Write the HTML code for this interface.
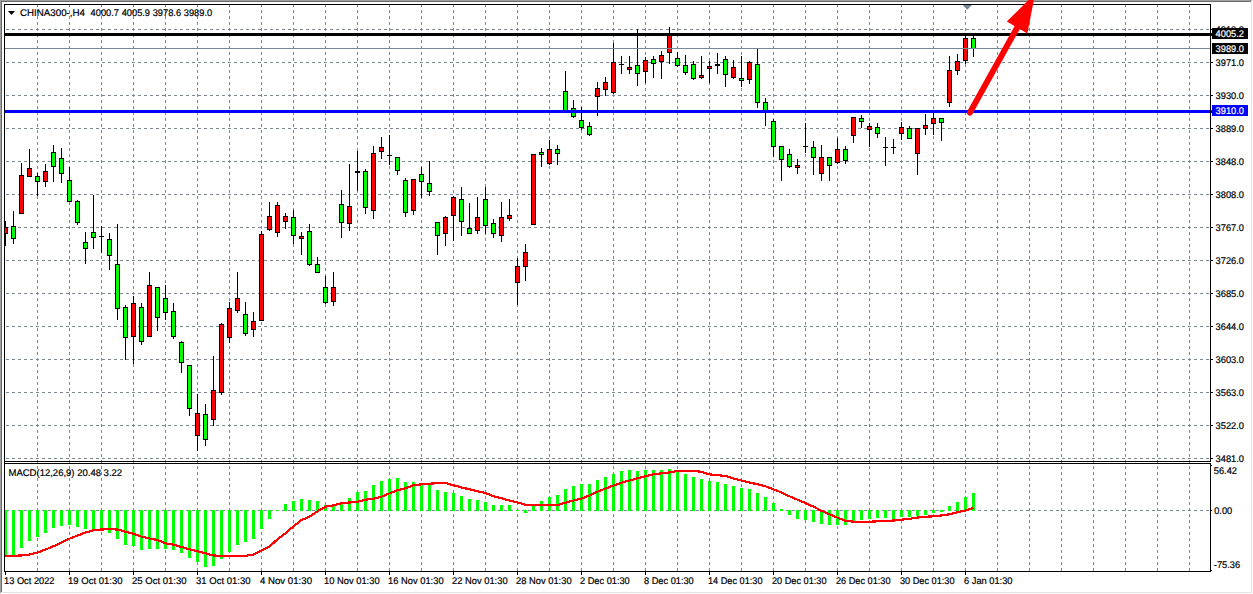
<!DOCTYPE html><html><head><meta charset="utf-8"><title>CHINA300-,H4</title>
<style>html,body{margin:0;padding:0;background:#fff;overflow:hidden}svg{display:block}text{font-family:"Liberation Sans",sans-serif;font-size:9.7px;fill:#000;stroke:#000;stroke-width:0.2px;text-rendering:geometricPrecision}</style></head><body>
<svg width="1253" height="594" viewBox="0 0 1253 594">
<defs><clipPath id="c1"><rect x="5" y="5" width="1205" height="456"/></clipPath><clipPath id="c2"><rect x="5" y="464" width="1205" height="107"/></clipPath></defs>
<rect x="0" y="0" width="1253" height="594" fill="#fff"/>
<g shape-rendering="crispEdges">
<rect x="0" y="0" width="1253" height="1" fill="#a0a0a0"/><rect x="0" y="0" width="1" height="594" fill="#a0a0a0"/>
<rect x="1" y="1" width="1250" height="1" fill="#696969"/><rect x="1" y="1" width="1" height="591" fill="#696969"/>
<rect x="1251" y="2" width="1" height="591" fill="#e3e3e3"/><rect x="2" y="592" width="1250" height="1" fill="#e3e3e3"/>
<rect x="1252" y="0" width="1" height="594" fill="#fff"/><rect x="0" y="593" width="1253" height="1" fill="#fff"/>
<g clip-path="url(#c1)" stroke="#778899" stroke-width="1" stroke-dasharray="3 3" fill="none">
<line x1="0" y1="29.5" x2="1212" y2="29.5"/>
<line x1="0" y1="62.5" x2="1212" y2="62.5"/>
<line x1="0" y1="95.5" x2="1212" y2="95.5"/>
<line x1="0" y1="128.5" x2="1212" y2="128.5"/>
<line x1="0" y1="161.5" x2="1212" y2="161.5"/>
<line x1="0" y1="194.5" x2="1212" y2="194.5"/>
<line x1="0" y1="227.5" x2="1212" y2="227.5"/>
<line x1="0" y1="260.5" x2="1212" y2="260.5"/>
<line x1="0" y1="293.5" x2="1212" y2="293.5"/>
<line x1="0" y1="326.5" x2="1212" y2="326.5"/>
<line x1="0" y1="359.5" x2="1212" y2="359.5"/>
<line x1="0" y1="392.5" x2="1212" y2="392.5"/>
<line x1="0" y1="425.5" x2="1212" y2="425.5"/>
<line x1="0" y1="458.5" x2="1212" y2="458.5"/>
<line x1="37.5" y1="4" x2="37.5" y2="466"/>
<line x1="69.5" y1="4" x2="69.5" y2="466"/>
<line x1="101.5" y1="4" x2="101.5" y2="466"/>
<line x1="133.5" y1="4" x2="133.5" y2="466"/>
<line x1="165.5" y1="4" x2="165.5" y2="466"/>
<line x1="197.5" y1="4" x2="197.5" y2="466"/>
<line x1="229.5" y1="4" x2="229.5" y2="466"/>
<line x1="261.5" y1="4" x2="261.5" y2="466"/>
<line x1="293.5" y1="4" x2="293.5" y2="466"/>
<line x1="325.5" y1="4" x2="325.5" y2="466"/>
<line x1="357.5" y1="4" x2="357.5" y2="466"/>
<line x1="389.5" y1="4" x2="389.5" y2="466"/>
<line x1="421.5" y1="4" x2="421.5" y2="466"/>
<line x1="453.5" y1="4" x2="453.5" y2="466"/>
<line x1="485.5" y1="4" x2="485.5" y2="466"/>
<line x1="517.5" y1="4" x2="517.5" y2="466"/>
<line x1="549.5" y1="4" x2="549.5" y2="466"/>
<line x1="581.5" y1="4" x2="581.5" y2="466"/>
<line x1="613.5" y1="4" x2="613.5" y2="466"/>
<line x1="645.5" y1="4" x2="645.5" y2="466"/>
<line x1="677.5" y1="4" x2="677.5" y2="466"/>
<line x1="709.5" y1="4" x2="709.5" y2="466"/>
<line x1="741.5" y1="4" x2="741.5" y2="466"/>
<line x1="773.5" y1="4" x2="773.5" y2="466"/>
<line x1="805.5" y1="4" x2="805.5" y2="466"/>
<line x1="837.5" y1="4" x2="837.5" y2="466"/>
<line x1="869.5" y1="4" x2="869.5" y2="466"/>
<line x1="901.5" y1="4" x2="901.5" y2="466"/>
<line x1="933.5" y1="4" x2="933.5" y2="466"/>
<line x1="965.5" y1="4" x2="965.5" y2="466"/>
<line x1="997.5" y1="4" x2="997.5" y2="466"/>
<line x1="1029.5" y1="4" x2="1029.5" y2="466"/>
<line x1="1061.5" y1="4" x2="1061.5" y2="466"/>
<line x1="1093.5" y1="4" x2="1093.5" y2="466"/>
<line x1="1125.5" y1="4" x2="1125.5" y2="466"/>
<line x1="1157.5" y1="4" x2="1157.5" y2="466"/>
<line x1="1189.5" y1="4" x2="1189.5" y2="466"/>
</g>
<g clip-path="url(#c2)" stroke="#778899" stroke-width="1" stroke-dasharray="3 3" fill="none">
<line x1="0" y1="510.5" x2="1212" y2="510.5"/>
<line x1="37.5" y1="460" x2="37.5" y2="575"/>
<line x1="69.5" y1="460" x2="69.5" y2="575"/>
<line x1="101.5" y1="460" x2="101.5" y2="575"/>
<line x1="133.5" y1="460" x2="133.5" y2="575"/>
<line x1="165.5" y1="460" x2="165.5" y2="575"/>
<line x1="197.5" y1="460" x2="197.5" y2="575"/>
<line x1="229.5" y1="460" x2="229.5" y2="575"/>
<line x1="261.5" y1="460" x2="261.5" y2="575"/>
<line x1="293.5" y1="460" x2="293.5" y2="575"/>
<line x1="325.5" y1="460" x2="325.5" y2="575"/>
<line x1="357.5" y1="460" x2="357.5" y2="575"/>
<line x1="389.5" y1="460" x2="389.5" y2="575"/>
<line x1="421.5" y1="460" x2="421.5" y2="575"/>
<line x1="453.5" y1="460" x2="453.5" y2="575"/>
<line x1="485.5" y1="460" x2="485.5" y2="575"/>
<line x1="517.5" y1="460" x2="517.5" y2="575"/>
<line x1="549.5" y1="460" x2="549.5" y2="575"/>
<line x1="581.5" y1="460" x2="581.5" y2="575"/>
<line x1="613.5" y1="460" x2="613.5" y2="575"/>
<line x1="645.5" y1="460" x2="645.5" y2="575"/>
<line x1="677.5" y1="460" x2="677.5" y2="575"/>
<line x1="709.5" y1="460" x2="709.5" y2="575"/>
<line x1="741.5" y1="460" x2="741.5" y2="575"/>
<line x1="773.5" y1="460" x2="773.5" y2="575"/>
<line x1="805.5" y1="460" x2="805.5" y2="575"/>
<line x1="837.5" y1="460" x2="837.5" y2="575"/>
<line x1="869.5" y1="460" x2="869.5" y2="575"/>
<line x1="901.5" y1="460" x2="901.5" y2="575"/>
<line x1="933.5" y1="460" x2="933.5" y2="575"/>
<line x1="965.5" y1="460" x2="965.5" y2="575"/>
<line x1="997.5" y1="460" x2="997.5" y2="575"/>
<line x1="1029.5" y1="460" x2="1029.5" y2="575"/>
<line x1="1061.5" y1="460" x2="1061.5" y2="575"/>
<line x1="1093.5" y1="460" x2="1093.5" y2="575"/>
<line x1="1125.5" y1="460" x2="1125.5" y2="575"/>
<line x1="1157.5" y1="460" x2="1157.5" y2="575"/>
<line x1="1189.5" y1="460" x2="1189.5" y2="575"/>
</g>
<rect x="5" y="221" width="1" height="25" fill="#000"/>
<rect x="3" y="227" width="5" height="7" fill="#000"/>
<rect x="4" y="228" width="3" height="5" fill="#ff0000"/>
<rect x="13" y="211" width="1" height="33" fill="#000"/>
<rect x="11" y="226" width="5" height="13" fill="#000"/>
<rect x="12" y="227" width="3" height="11" fill="#00ff00"/>
<rect x="21" y="163" width="1" height="51" fill="#000"/>
<rect x="19" y="175" width="5" height="39" fill="#000"/>
<rect x="20" y="176" width="3" height="37" fill="#ff0000"/>
<rect x="29" y="149" width="1" height="28" fill="#000"/>
<rect x="27" y="168" width="5" height="9" fill="#000"/>
<rect x="28" y="169" width="3" height="7" fill="#ff0000"/>
<rect x="37" y="173" width="1" height="23" fill="#000"/>
<rect x="35" y="176" width="5" height="6" fill="#000"/>
<rect x="36" y="177" width="3" height="4" fill="#00ff00"/>
<rect x="45" y="164" width="1" height="23" fill="#000"/>
<rect x="43" y="171" width="5" height="11" fill="#000"/>
<rect x="44" y="172" width="3" height="9" fill="#ff0000"/>
<rect x="53" y="145" width="1" height="37" fill="#000"/>
<rect x="51" y="152" width="5" height="15" fill="#000"/>
<rect x="52" y="153" width="3" height="13" fill="#00ff00"/>
<rect x="61" y="148" width="1" height="35" fill="#000"/>
<rect x="59" y="158" width="5" height="16" fill="#000"/>
<rect x="60" y="159" width="3" height="14" fill="#00ff00"/>
<rect x="69" y="167" width="1" height="35" fill="#000"/>
<rect x="67" y="180" width="5" height="22" fill="#000"/>
<rect x="68" y="181" width="3" height="20" fill="#00ff00"/>
<rect x="77" y="200" width="1" height="25" fill="#000"/>
<rect x="75" y="201" width="5" height="22" fill="#000"/>
<rect x="76" y="202" width="3" height="20" fill="#00ff00"/>
<rect x="85" y="232" width="1" height="32" fill="#000"/>
<rect x="83" y="242" width="5" height="7" fill="#000"/>
<rect x="84" y="243" width="3" height="5" fill="#00ff00"/>
<rect x="93" y="195" width="1" height="54" fill="#000"/>
<rect x="91" y="232" width="5" height="6" fill="#000"/>
<rect x="92" y="233" width="3" height="4" fill="#00ff00"/>
<rect x="101" y="226" width="1" height="27" fill="#000"/>
<rect x="99" y="236" width="5" height="1" fill="#000"/>
<rect x="109" y="233" width="1" height="37" fill="#000"/>
<rect x="107" y="239" width="5" height="17" fill="#000"/>
<rect x="108" y="240" width="3" height="15" fill="#00ff00"/>
<rect x="117" y="224" width="1" height="96" fill="#000"/>
<rect x="115" y="264" width="5" height="45" fill="#000"/>
<rect x="116" y="265" width="3" height="43" fill="#00ff00"/>
<rect x="125" y="305" width="1" height="55" fill="#000"/>
<rect x="123" y="307" width="5" height="31" fill="#000"/>
<rect x="124" y="308" width="3" height="29" fill="#00ff00"/>
<rect x="133" y="296" width="1" height="68" fill="#000"/>
<rect x="131" y="303" width="5" height="34" fill="#000"/>
<rect x="132" y="304" width="3" height="32" fill="#ff0000"/>
<rect x="141" y="303" width="1" height="42" fill="#000"/>
<rect x="139" y="307" width="5" height="35" fill="#000"/>
<rect x="140" y="308" width="3" height="33" fill="#00ff00"/>
<rect x="149" y="272" width="1" height="65" fill="#000"/>
<rect x="147" y="285" width="5" height="52" fill="#000"/>
<rect x="148" y="286" width="3" height="50" fill="#ff0000"/>
<rect x="157" y="287" width="1" height="44" fill="#000"/>
<rect x="155" y="287" width="5" height="31" fill="#000"/>
<rect x="156" y="288" width="3" height="29" fill="#00ff00"/>
<rect x="165" y="285" width="1" height="35" fill="#000"/>
<rect x="163" y="298" width="5" height="15" fill="#000"/>
<rect x="164" y="299" width="3" height="13" fill="#00ff00"/>
<rect x="173" y="303" width="1" height="36" fill="#000"/>
<rect x="171" y="311" width="5" height="26" fill="#000"/>
<rect x="172" y="312" width="3" height="24" fill="#00ff00"/>
<rect x="181" y="341" width="1" height="32" fill="#000"/>
<rect x="179" y="342" width="5" height="21" fill="#000"/>
<rect x="180" y="343" width="3" height="19" fill="#00ff00"/>
<rect x="189" y="365" width="1" height="51" fill="#000"/>
<rect x="187" y="365" width="5" height="44" fill="#000"/>
<rect x="188" y="366" width="3" height="42" fill="#00ff00"/>
<rect x="197" y="394" width="1" height="57" fill="#000"/>
<rect x="195" y="413" width="5" height="23" fill="#000"/>
<rect x="196" y="414" width="3" height="21" fill="#ff0000"/>
<rect x="205" y="404" width="1" height="42" fill="#000"/>
<rect x="203" y="414" width="5" height="26" fill="#000"/>
<rect x="204" y="415" width="3" height="24" fill="#00ff00"/>
<rect x="213" y="356" width="1" height="70" fill="#000"/>
<rect x="211" y="390" width="5" height="30" fill="#000"/>
<rect x="212" y="391" width="3" height="28" fill="#ff0000"/>
<rect x="221" y="323" width="1" height="72" fill="#000"/>
<rect x="219" y="324" width="5" height="69" fill="#000"/>
<rect x="220" y="325" width="3" height="67" fill="#ff0000"/>
<rect x="229" y="302" width="1" height="41" fill="#000"/>
<rect x="227" y="308" width="5" height="30" fill="#000"/>
<rect x="228" y="309" width="3" height="28" fill="#ff0000"/>
<rect x="237" y="272" width="1" height="41" fill="#000"/>
<rect x="235" y="298" width="5" height="13" fill="#000"/>
<rect x="236" y="299" width="3" height="11" fill="#ff0000"/>
<rect x="245" y="302" width="1" height="34" fill="#000"/>
<rect x="243" y="314" width="5" height="20" fill="#000"/>
<rect x="244" y="315" width="3" height="18" fill="#00ff00"/>
<rect x="253" y="312" width="1" height="25" fill="#000"/>
<rect x="251" y="321" width="5" height="9" fill="#000"/>
<rect x="252" y="322" width="3" height="7" fill="#ff0000"/>
<rect x="261" y="231" width="1" height="90" fill="#000"/>
<rect x="259" y="234" width="5" height="87" fill="#000"/>
<rect x="260" y="235" width="3" height="85" fill="#ff0000"/>
<rect x="269" y="202" width="1" height="29" fill="#000"/>
<rect x="267" y="216" width="5" height="14" fill="#000"/>
<rect x="268" y="217" width="3" height="12" fill="#ff0000"/>
<rect x="277" y="202" width="1" height="35" fill="#000"/>
<rect x="275" y="205" width="5" height="28" fill="#000"/>
<rect x="276" y="206" width="3" height="26" fill="#ff0000"/>
<rect x="285" y="213" width="1" height="16" fill="#000"/>
<rect x="283" y="216" width="5" height="6" fill="#000"/>
<rect x="284" y="217" width="3" height="4" fill="#ff0000"/>
<rect x="293" y="210" width="1" height="34" fill="#000"/>
<rect x="291" y="217" width="5" height="19" fill="#000"/>
<rect x="292" y="218" width="3" height="17" fill="#00ff00"/>
<rect x="301" y="232" width="1" height="23" fill="#000"/>
<rect x="299" y="236" width="5" height="3" fill="#000"/>
<rect x="300" y="237" width="3" height="1" fill="#ff0000"/>
<rect x="309" y="224" width="1" height="42" fill="#000"/>
<rect x="307" y="231" width="5" height="34" fill="#000"/>
<rect x="308" y="232" width="3" height="32" fill="#00ff00"/>
<rect x="317" y="257" width="1" height="16" fill="#000"/>
<rect x="315" y="264" width="5" height="9" fill="#000"/>
<rect x="316" y="265" width="3" height="7" fill="#00ff00"/>
<rect x="325" y="276" width="1" height="28" fill="#000"/>
<rect x="323" y="287" width="5" height="16" fill="#000"/>
<rect x="324" y="288" width="3" height="14" fill="#00ff00"/>
<rect x="333" y="272" width="1" height="34" fill="#000"/>
<rect x="331" y="287" width="5" height="15" fill="#000"/>
<rect x="332" y="288" width="3" height="13" fill="#ff0000"/>
<rect x="341" y="190" width="1" height="48" fill="#000"/>
<rect x="339" y="204" width="5" height="19" fill="#000"/>
<rect x="340" y="205" width="3" height="17" fill="#00ff00"/>
<rect x="349" y="164" width="1" height="67" fill="#000"/>
<rect x="347" y="206" width="5" height="18" fill="#000"/>
<rect x="348" y="207" width="3" height="16" fill="#ff0000"/>
<rect x="357" y="151" width="1" height="40" fill="#000"/>
<rect x="355" y="171" width="5" height="2" fill="#000"/>
<rect x="365" y="169" width="1" height="45" fill="#000"/>
<rect x="363" y="171" width="5" height="37" fill="#000"/>
<rect x="364" y="172" width="3" height="35" fill="#00ff00"/>
<rect x="373" y="146" width="1" height="73" fill="#000"/>
<rect x="371" y="153" width="5" height="58" fill="#000"/>
<rect x="372" y="154" width="3" height="56" fill="#ff0000"/>
<rect x="381" y="137" width="1" height="22" fill="#000"/>
<rect x="379" y="147" width="5" height="5" fill="#000"/>
<rect x="380" y="148" width="3" height="3" fill="#ff0000"/>
<rect x="389" y="135" width="1" height="30" fill="#000"/>
<rect x="387" y="155" width="5" height="1" fill="#000"/>
<rect x="397" y="157" width="1" height="18" fill="#000"/>
<rect x="395" y="157" width="5" height="14" fill="#000"/>
<rect x="396" y="158" width="3" height="12" fill="#00ff00"/>
<rect x="405" y="178" width="1" height="39" fill="#000"/>
<rect x="403" y="180" width="5" height="33" fill="#000"/>
<rect x="404" y="181" width="3" height="31" fill="#00ff00"/>
<rect x="413" y="179" width="1" height="36" fill="#000"/>
<rect x="411" y="179" width="5" height="32" fill="#000"/>
<rect x="412" y="180" width="3" height="30" fill="#ff0000"/>
<rect x="421" y="167" width="1" height="31" fill="#000"/>
<rect x="419" y="174" width="5" height="8" fill="#000"/>
<rect x="420" y="175" width="3" height="6" fill="#00ff00"/>
<rect x="429" y="161" width="1" height="35" fill="#000"/>
<rect x="427" y="183" width="5" height="9" fill="#000"/>
<rect x="428" y="184" width="3" height="7" fill="#00ff00"/>
<rect x="437" y="222" width="1" height="33" fill="#000"/>
<rect x="435" y="222" width="5" height="14" fill="#000"/>
<rect x="436" y="223" width="3" height="12" fill="#00ff00"/>
<rect x="445" y="216" width="1" height="30" fill="#000"/>
<rect x="443" y="217" width="5" height="17" fill="#000"/>
<rect x="444" y="218" width="3" height="15" fill="#ff0000"/>
<rect x="453" y="196" width="1" height="45" fill="#000"/>
<rect x="451" y="197" width="5" height="19" fill="#000"/>
<rect x="452" y="198" width="3" height="17" fill="#ff0000"/>
<rect x="461" y="187" width="1" height="49" fill="#000"/>
<rect x="459" y="199" width="5" height="23" fill="#000"/>
<rect x="460" y="200" width="3" height="21" fill="#00ff00"/>
<rect x="469" y="203" width="1" height="31" fill="#000"/>
<rect x="467" y="228" width="5" height="6" fill="#000"/>
<rect x="468" y="229" width="3" height="4" fill="#00ff00"/>
<rect x="477" y="197" width="1" height="37" fill="#000"/>
<rect x="475" y="217" width="5" height="14" fill="#000"/>
<rect x="476" y="218" width="3" height="12" fill="#ff0000"/>
<rect x="485" y="187" width="1" height="47" fill="#000"/>
<rect x="483" y="199" width="5" height="27" fill="#000"/>
<rect x="484" y="200" width="3" height="25" fill="#00ff00"/>
<rect x="493" y="219" width="1" height="19" fill="#000"/>
<rect x="491" y="223" width="5" height="11" fill="#000"/>
<rect x="492" y="224" width="3" height="9" fill="#00ff00"/>
<rect x="501" y="202" width="1" height="40" fill="#000"/>
<rect x="499" y="217" width="5" height="19" fill="#000"/>
<rect x="500" y="218" width="3" height="17" fill="#ff0000"/>
<rect x="509" y="199" width="1" height="22" fill="#000"/>
<rect x="507" y="215" width="5" height="4" fill="#000"/>
<rect x="508" y="216" width="3" height="2" fill="#ff0000"/>
<rect x="517" y="258" width="1" height="47" fill="#000"/>
<rect x="515" y="266" width="5" height="17" fill="#000"/>
<rect x="516" y="267" width="3" height="15" fill="#ff0000"/>
<rect x="525" y="244" width="1" height="37" fill="#000"/>
<rect x="523" y="252" width="5" height="15" fill="#000"/>
<rect x="524" y="253" width="3" height="13" fill="#ff0000"/>
<rect x="533" y="154" width="1" height="71" fill="#000"/>
<rect x="531" y="154" width="5" height="71" fill="#000"/>
<rect x="532" y="155" width="3" height="69" fill="#ff0000"/>
<rect x="541" y="148" width="1" height="19" fill="#000"/>
<rect x="539" y="152" width="5" height="3" fill="#000"/>
<rect x="540" y="153" width="3" height="1" fill="#00ff00"/>
<rect x="549" y="140" width="1" height="25" fill="#000"/>
<rect x="547" y="149" width="5" height="15" fill="#000"/>
<rect x="548" y="150" width="3" height="13" fill="#ff0000"/>
<rect x="557" y="145" width="1" height="20" fill="#000"/>
<rect x="555" y="149" width="5" height="5" fill="#000"/>
<rect x="556" y="150" width="3" height="3" fill="#00ff00"/>
<rect x="565" y="71" width="1" height="41" fill="#000"/>
<rect x="563" y="91" width="5" height="21" fill="#000"/>
<rect x="564" y="92" width="3" height="19" fill="#00ff00"/>
<rect x="573" y="100" width="1" height="18" fill="#000"/>
<rect x="571" y="108" width="5" height="9" fill="#000"/>
<rect x="572" y="109" width="3" height="7" fill="#00ff00"/>
<rect x="581" y="107" width="1" height="23" fill="#000"/>
<rect x="579" y="120" width="5" height="8" fill="#000"/>
<rect x="580" y="121" width="3" height="6" fill="#00ff00"/>
<rect x="589" y="122" width="1" height="14" fill="#000"/>
<rect x="587" y="126" width="5" height="9" fill="#000"/>
<rect x="588" y="127" width="3" height="7" fill="#00ff00"/>
<rect x="597" y="82" width="1" height="34" fill="#000"/>
<rect x="595" y="88" width="5" height="9" fill="#000"/>
<rect x="596" y="89" width="3" height="7" fill="#ff0000"/>
<rect x="605" y="77" width="1" height="19" fill="#000"/>
<rect x="603" y="82" width="5" height="8" fill="#000"/>
<rect x="604" y="83" width="3" height="6" fill="#ff0000"/>
<rect x="613" y="43" width="1" height="51" fill="#000"/>
<rect x="611" y="62" width="5" height="31" fill="#000"/>
<rect x="612" y="63" width="3" height="29" fill="#ff0000"/>
<rect x="621" y="56" width="1" height="18" fill="#000"/>
<rect x="619" y="64" width="5" height="1" fill="#000"/>
<rect x="629" y="56" width="1" height="18" fill="#000"/>
<rect x="627" y="67" width="5" height="3" fill="#000"/>
<rect x="628" y="68" width="3" height="1" fill="#ff0000"/>
<rect x="637" y="29" width="1" height="57" fill="#000"/>
<rect x="635" y="65" width="5" height="9" fill="#000"/>
<rect x="636" y="66" width="3" height="7" fill="#00ff00"/>
<rect x="645" y="57" width="1" height="26" fill="#000"/>
<rect x="643" y="60" width="5" height="12" fill="#000"/>
<rect x="644" y="61" width="3" height="10" fill="#ff0000"/>
<rect x="653" y="56" width="1" height="22" fill="#000"/>
<rect x="651" y="59" width="5" height="5" fill="#000"/>
<rect x="652" y="60" width="3" height="3" fill="#00ff00"/>
<rect x="661" y="51" width="1" height="28" fill="#000"/>
<rect x="659" y="55" width="5" height="7" fill="#000"/>
<rect x="660" y="56" width="3" height="5" fill="#ff0000"/>
<rect x="669" y="27" width="1" height="37" fill="#000"/>
<rect x="667" y="35" width="5" height="18" fill="#000"/>
<rect x="668" y="36" width="3" height="16" fill="#ff0000"/>
<rect x="677" y="52" width="1" height="15" fill="#000"/>
<rect x="675" y="58" width="5" height="8" fill="#000"/>
<rect x="676" y="59" width="3" height="6" fill="#00ff00"/>
<rect x="685" y="55" width="1" height="20" fill="#000"/>
<rect x="683" y="65" width="5" height="8" fill="#000"/>
<rect x="684" y="66" width="3" height="6" fill="#00ff00"/>
<rect x="693" y="61" width="1" height="19" fill="#000"/>
<rect x="691" y="64" width="5" height="15" fill="#000"/>
<rect x="692" y="65" width="3" height="13" fill="#00ff00"/>
<rect x="701" y="56" width="1" height="23" fill="#000"/>
<rect x="699" y="75" width="5" height="3" fill="#000"/>
<rect x="700" y="76" width="3" height="1" fill="#ff0000"/>
<rect x="709" y="61" width="1" height="22" fill="#000"/>
<rect x="707" y="66" width="5" height="3" fill="#000"/>
<rect x="708" y="67" width="3" height="1" fill="#ff0000"/>
<rect x="717" y="53" width="1" height="21" fill="#000"/>
<rect x="715" y="64" width="5" height="2" fill="#000"/>
<rect x="725" y="56" width="1" height="31" fill="#000"/>
<rect x="723" y="59" width="5" height="16" fill="#000"/>
<rect x="724" y="60" width="3" height="14" fill="#00ff00"/>
<rect x="733" y="60" width="1" height="19" fill="#000"/>
<rect x="731" y="67" width="5" height="11" fill="#000"/>
<rect x="732" y="68" width="3" height="9" fill="#ff0000"/>
<rect x="741" y="56" width="1" height="31" fill="#000"/>
<rect x="739" y="78" width="5" height="3" fill="#000"/>
<rect x="740" y="79" width="3" height="1" fill="#00ff00"/>
<rect x="749" y="61" width="1" height="23" fill="#000"/>
<rect x="747" y="62" width="5" height="18" fill="#000"/>
<rect x="748" y="63" width="3" height="16" fill="#ff0000"/>
<rect x="757" y="49" width="1" height="59" fill="#000"/>
<rect x="755" y="64" width="5" height="39" fill="#000"/>
<rect x="756" y="65" width="3" height="37" fill="#00ff00"/>
<rect x="765" y="98" width="1" height="28" fill="#000"/>
<rect x="763" y="102" width="5" height="10" fill="#000"/>
<rect x="764" y="103" width="3" height="8" fill="#00ff00"/>
<rect x="773" y="119" width="1" height="38" fill="#000"/>
<rect x="771" y="121" width="5" height="26" fill="#000"/>
<rect x="772" y="122" width="3" height="24" fill="#00ff00"/>
<rect x="781" y="146" width="1" height="35" fill="#000"/>
<rect x="779" y="146" width="5" height="14" fill="#000"/>
<rect x="780" y="147" width="3" height="12" fill="#00ff00"/>
<rect x="789" y="149" width="1" height="19" fill="#000"/>
<rect x="787" y="154" width="5" height="13" fill="#000"/>
<rect x="788" y="155" width="3" height="11" fill="#00ff00"/>
<rect x="797" y="159" width="1" height="15" fill="#000"/>
<rect x="795" y="165" width="5" height="3" fill="#000"/>
<rect x="796" y="166" width="3" height="1" fill="#ff0000"/>
<rect x="805" y="123" width="1" height="30" fill="#000"/>
<rect x="803" y="146" width="5" height="1" fill="#000"/>
<rect x="813" y="141" width="1" height="34" fill="#000"/>
<rect x="811" y="147" width="5" height="11" fill="#000"/>
<rect x="812" y="148" width="3" height="9" fill="#00ff00"/>
<rect x="821" y="145" width="1" height="36" fill="#000"/>
<rect x="819" y="157" width="5" height="17" fill="#000"/>
<rect x="820" y="158" width="3" height="15" fill="#ff0000"/>
<rect x="829" y="157" width="1" height="24" fill="#000"/>
<rect x="827" y="157" width="5" height="9" fill="#000"/>
<rect x="828" y="158" width="3" height="7" fill="#00ff00"/>
<rect x="837" y="138" width="1" height="26" fill="#000"/>
<rect x="835" y="149" width="5" height="14" fill="#000"/>
<rect x="836" y="150" width="3" height="12" fill="#ff0000"/>
<rect x="845" y="146" width="1" height="18" fill="#000"/>
<rect x="843" y="149" width="5" height="12" fill="#000"/>
<rect x="844" y="150" width="3" height="10" fill="#00ff00"/>
<rect x="853" y="117" width="1" height="26" fill="#000"/>
<rect x="851" y="117" width="5" height="19" fill="#000"/>
<rect x="852" y="118" width="3" height="17" fill="#ff0000"/>
<rect x="861" y="115" width="1" height="13" fill="#000"/>
<rect x="859" y="118" width="5" height="4" fill="#000"/>
<rect x="860" y="119" width="3" height="2" fill="#00ff00"/>
<rect x="869" y="123" width="1" height="24" fill="#000"/>
<rect x="867" y="126" width="5" height="4" fill="#000"/>
<rect x="868" y="127" width="3" height="2" fill="#ff0000"/>
<rect x="877" y="123" width="1" height="15" fill="#000"/>
<rect x="875" y="127" width="5" height="7" fill="#000"/>
<rect x="876" y="128" width="3" height="5" fill="#00ff00"/>
<rect x="885" y="137" width="1" height="29" fill="#000"/>
<rect x="883" y="147" width="5" height="1" fill="#000"/>
<rect x="893" y="139" width="1" height="15" fill="#000"/>
<rect x="891" y="147" width="5" height="1" fill="#000"/>
<rect x="901" y="122" width="1" height="18" fill="#000"/>
<rect x="899" y="127" width="5" height="7" fill="#000"/>
<rect x="900" y="128" width="3" height="5" fill="#ff0000"/>
<rect x="909" y="126" width="1" height="13" fill="#000"/>
<rect x="907" y="128" width="5" height="11" fill="#000"/>
<rect x="908" y="129" width="3" height="9" fill="#00ff00"/>
<rect x="917" y="128" width="1" height="47" fill="#000"/>
<rect x="915" y="128" width="5" height="26" fill="#000"/>
<rect x="916" y="129" width="3" height="24" fill="#ff0000"/>
<rect x="925" y="114" width="1" height="21" fill="#000"/>
<rect x="923" y="125" width="5" height="4" fill="#000"/>
<rect x="924" y="126" width="3" height="2" fill="#ff0000"/>
<rect x="933" y="113" width="1" height="22" fill="#000"/>
<rect x="931" y="118" width="5" height="6" fill="#000"/>
<rect x="932" y="119" width="3" height="4" fill="#ff0000"/>
<rect x="941" y="118" width="1" height="23" fill="#000"/>
<rect x="939" y="118" width="5" height="5" fill="#000"/>
<rect x="940" y="119" width="3" height="3" fill="#00ff00"/>
<rect x="949" y="56" width="1" height="51" fill="#000"/>
<rect x="947" y="70" width="5" height="33" fill="#000"/>
<rect x="948" y="71" width="3" height="31" fill="#ff0000"/>
<rect x="957" y="54" width="1" height="21" fill="#000"/>
<rect x="955" y="61" width="5" height="10" fill="#000"/>
<rect x="956" y="62" width="3" height="8" fill="#ff0000"/>
<rect x="965" y="36" width="1" height="28" fill="#000"/>
<rect x="963" y="38" width="5" height="23" fill="#000"/>
<rect x="964" y="39" width="3" height="21" fill="#ff0000"/>
<rect x="973" y="36" width="1" height="21" fill="#000"/>
<rect x="971" y="38" width="5" height="11" fill="#000"/>
<rect x="972" y="39" width="3" height="9" fill="#00ff00"/>
<rect x="5" y="48" width="1205" height="1" fill="#778899"/>
<rect x="5" y="33" width="1207" height="3" fill="#000"/>
<rect x="5" y="110" width="1207" height="3" fill="#0000ff"/>
<rect x="4" y="510" width="3" height="46" fill="#00ff00"/>
<rect x="12" y="510" width="3" height="45" fill="#00ff00"/>
<rect x="20" y="510" width="3" height="38" fill="#00ff00"/>
<rect x="28" y="510" width="3" height="31" fill="#00ff00"/>
<rect x="36" y="510" width="3" height="27" fill="#00ff00"/>
<rect x="44" y="510" width="3" height="23" fill="#00ff00"/>
<rect x="52" y="510" width="3" height="18" fill="#00ff00"/>
<rect x="60" y="510" width="3" height="16" fill="#00ff00"/>
<rect x="68" y="510" width="3" height="15" fill="#00ff00"/>
<rect x="76" y="510" width="3" height="17" fill="#00ff00"/>
<rect x="84" y="510" width="3" height="19" fill="#00ff00"/>
<rect x="92" y="510" width="3" height="20" fill="#00ff00"/>
<rect x="100" y="510" width="3" height="20" fill="#00ff00"/>
<rect x="108" y="510" width="3" height="23" fill="#00ff00"/>
<rect x="116" y="510" width="3" height="29" fill="#00ff00"/>
<rect x="124" y="510" width="3" height="35" fill="#00ff00"/>
<rect x="132" y="510" width="3" height="36" fill="#00ff00"/>
<rect x="140" y="510" width="3" height="40" fill="#00ff00"/>
<rect x="148" y="510" width="3" height="39" fill="#00ff00"/>
<rect x="156" y="510" width="3" height="39" fill="#00ff00"/>
<rect x="164" y="510" width="3" height="39" fill="#00ff00"/>
<rect x="172" y="510" width="3" height="40" fill="#00ff00"/>
<rect x="180" y="510" width="3" height="43" fill="#00ff00"/>
<rect x="188" y="510" width="3" height="48" fill="#00ff00"/>
<rect x="196" y="510" width="3" height="52" fill="#00ff00"/>
<rect x="204" y="510" width="3" height="57" fill="#00ff00"/>
<rect x="212" y="510" width="3" height="56" fill="#00ff00"/>
<rect x="220" y="510" width="3" height="49" fill="#00ff00"/>
<rect x="228" y="510" width="3" height="42" fill="#00ff00"/>
<rect x="236" y="510" width="3" height="35" fill="#00ff00"/>
<rect x="244" y="510" width="3" height="32" fill="#00ff00"/>
<rect x="252" y="510" width="3" height="29" fill="#00ff00"/>
<rect x="260" y="510" width="3" height="19" fill="#00ff00"/>
<rect x="268" y="510" width="3" height="9" fill="#00ff00"/>
<rect x="276" y="510" width="3" height="1" fill="#00ff00"/>
<rect x="284" y="504" width="3" height="7" fill="#00ff00"/>
<rect x="292" y="501" width="3" height="10" fill="#00ff00"/>
<rect x="300" y="499" width="3" height="12" fill="#00ff00"/>
<rect x="308" y="500" width="3" height="11" fill="#00ff00"/>
<rect x="316" y="501" width="3" height="10" fill="#00ff00"/>
<rect x="324" y="505" width="3" height="6" fill="#00ff00"/>
<rect x="332" y="506" width="3" height="5" fill="#00ff00"/>
<rect x="340" y="502" width="3" height="9" fill="#00ff00"/>
<rect x="348" y="498" width="3" height="13" fill="#00ff00"/>
<rect x="356" y="492" width="3" height="19" fill="#00ff00"/>
<rect x="364" y="491" width="3" height="20" fill="#00ff00"/>
<rect x="372" y="485" width="3" height="26" fill="#00ff00"/>
<rect x="380" y="481" width="3" height="30" fill="#00ff00"/>
<rect x="388" y="479" width="3" height="32" fill="#00ff00"/>
<rect x="396" y="478" width="3" height="33" fill="#00ff00"/>
<rect x="404" y="482" width="3" height="29" fill="#00ff00"/>
<rect x="412" y="482" width="3" height="29" fill="#00ff00"/>
<rect x="420" y="483" width="3" height="28" fill="#00ff00"/>
<rect x="428" y="484" width="3" height="27" fill="#00ff00"/>
<rect x="436" y="490" width="3" height="21" fill="#00ff00"/>
<rect x="444" y="492" width="3" height="19" fill="#00ff00"/>
<rect x="452" y="493" width="3" height="18" fill="#00ff00"/>
<rect x="460" y="496" width="3" height="15" fill="#00ff00"/>
<rect x="468" y="499" width="3" height="12" fill="#00ff00"/>
<rect x="476" y="500" width="3" height="11" fill="#00ff00"/>
<rect x="484" y="502" width="3" height="9" fill="#00ff00"/>
<rect x="492" y="505" width="3" height="6" fill="#00ff00"/>
<rect x="500" y="505" width="3" height="6" fill="#00ff00"/>
<rect x="508" y="505" width="3" height="6" fill="#00ff00"/>
<rect x="516" y="510" width="3" height="1" fill="#00ff00"/>
<rect x="524" y="510" width="3" height="3" fill="#00ff00"/>
<rect x="532" y="506" width="3" height="5" fill="#00ff00"/>
<rect x="540" y="501" width="3" height="10" fill="#00ff00"/>
<rect x="548" y="497" width="3" height="14" fill="#00ff00"/>
<rect x="556" y="495" width="3" height="16" fill="#00ff00"/>
<rect x="564" y="489" width="3" height="22" fill="#00ff00"/>
<rect x="572" y="486" width="3" height="25" fill="#00ff00"/>
<rect x="580" y="484" width="3" height="27" fill="#00ff00"/>
<rect x="588" y="484" width="3" height="27" fill="#00ff00"/>
<rect x="596" y="480" width="3" height="31" fill="#00ff00"/>
<rect x="604" y="477" width="3" height="34" fill="#00ff00"/>
<rect x="612" y="474" width="3" height="37" fill="#00ff00"/>
<rect x="620" y="471" width="3" height="40" fill="#00ff00"/>
<rect x="628" y="470" width="3" height="41" fill="#00ff00"/>
<rect x="636" y="471" width="3" height="40" fill="#00ff00"/>
<rect x="644" y="470" width="3" height="41" fill="#00ff00"/>
<rect x="652" y="470" width="3" height="41" fill="#00ff00"/>
<rect x="660" y="470" width="3" height="41" fill="#00ff00"/>
<rect x="668" y="469" width="3" height="42" fill="#00ff00"/>
<rect x="676" y="472" width="3" height="39" fill="#00ff00"/>
<rect x="684" y="474" width="3" height="37" fill="#00ff00"/>
<rect x="692" y="477" width="3" height="34" fill="#00ff00"/>
<rect x="700" y="479" width="3" height="32" fill="#00ff00"/>
<rect x="708" y="481" width="3" height="30" fill="#00ff00"/>
<rect x="716" y="482" width="3" height="29" fill="#00ff00"/>
<rect x="724" y="484" width="3" height="27" fill="#00ff00"/>
<rect x="732" y="486" width="3" height="25" fill="#00ff00"/>
<rect x="740" y="488" width="3" height="23" fill="#00ff00"/>
<rect x="748" y="489" width="3" height="22" fill="#00ff00"/>
<rect x="756" y="493" width="3" height="18" fill="#00ff00"/>
<rect x="764" y="497" width="3" height="14" fill="#00ff00"/>
<rect x="772" y="503" width="3" height="8" fill="#00ff00"/>
<rect x="780" y="509" width="3" height="2" fill="#00ff00"/>
<rect x="788" y="510" width="3" height="5" fill="#00ff00"/>
<rect x="796" y="510" width="3" height="9" fill="#00ff00"/>
<rect x="804" y="510" width="3" height="10" fill="#00ff00"/>
<rect x="812" y="510" width="3" height="12" fill="#00ff00"/>
<rect x="820" y="510" width="3" height="14" fill="#00ff00"/>
<rect x="828" y="510" width="3" height="15" fill="#00ff00"/>
<rect x="836" y="510" width="3" height="15" fill="#00ff00"/>
<rect x="844" y="510" width="3" height="15" fill="#00ff00"/>
<rect x="852" y="510" width="3" height="11" fill="#00ff00"/>
<rect x="860" y="510" width="3" height="10" fill="#00ff00"/>
<rect x="868" y="510" width="3" height="9" fill="#00ff00"/>
<rect x="876" y="510" width="3" height="8" fill="#00ff00"/>
<rect x="884" y="510" width="3" height="8" fill="#00ff00"/>
<rect x="892" y="510" width="3" height="9" fill="#00ff00"/>
<rect x="900" y="510" width="3" height="7" fill="#00ff00"/>
<rect x="908" y="510" width="3" height="7" fill="#00ff00"/>
<rect x="916" y="510" width="3" height="6" fill="#00ff00"/>
<rect x="924" y="510" width="3" height="5" fill="#00ff00"/>
<rect x="932" y="510" width="3" height="3" fill="#00ff00"/>
<rect x="940" y="510" width="3" height="2" fill="#00ff00"/>
<rect x="948" y="506" width="3" height="5" fill="#00ff00"/>
<rect x="956" y="502" width="3" height="9" fill="#00ff00"/>
<rect x="964" y="497" width="3" height="14" fill="#00ff00"/>
<rect x="972" y="493" width="3" height="18" fill="#00ff00"/>
<rect x="2" y="2" width="2" height="590" fill="#fff"/>
<rect x="4" y="4" width="1207" height="1" fill="#000"/>
<rect x="4" y="4" width="1" height="568" fill="#000"/>
<rect x="1210" y="4" width="1" height="458" fill="#000"/>
<rect x="4" y="461" width="1207" height="1" fill="#000"/>
<rect x="5" y="462" width="1240" height="1" fill="#fff"/>
<rect x="4" y="463" width="1207" height="1" fill="#000"/>
<rect x="37" y="462" width="1" height="1" fill="#778899"/>
<rect x="69" y="462" width="1" height="1" fill="#778899"/>
<rect x="101" y="462" width="1" height="1" fill="#778899"/>
<rect x="133" y="462" width="1" height="1" fill="#778899"/>
<rect x="165" y="462" width="1" height="1" fill="#778899"/>
<rect x="197" y="462" width="1" height="1" fill="#778899"/>
<rect x="229" y="462" width="1" height="1" fill="#778899"/>
<rect x="261" y="462" width="1" height="1" fill="#778899"/>
<rect x="293" y="462" width="1" height="1" fill="#778899"/>
<rect x="325" y="462" width="1" height="1" fill="#778899"/>
<rect x="357" y="462" width="1" height="1" fill="#778899"/>
<rect x="389" y="462" width="1" height="1" fill="#778899"/>
<rect x="421" y="462" width="1" height="1" fill="#778899"/>
<rect x="453" y="462" width="1" height="1" fill="#778899"/>
<rect x="485" y="462" width="1" height="1" fill="#778899"/>
<rect x="517" y="462" width="1" height="1" fill="#778899"/>
<rect x="549" y="462" width="1" height="1" fill="#778899"/>
<rect x="581" y="462" width="1" height="1" fill="#778899"/>
<rect x="613" y="462" width="1" height="1" fill="#778899"/>
<rect x="645" y="462" width="1" height="1" fill="#778899"/>
<rect x="677" y="462" width="1" height="1" fill="#778899"/>
<rect x="709" y="462" width="1" height="1" fill="#778899"/>
<rect x="741" y="462" width="1" height="1" fill="#778899"/>
<rect x="773" y="462" width="1" height="1" fill="#778899"/>
<rect x="805" y="462" width="1" height="1" fill="#778899"/>
<rect x="837" y="462" width="1" height="1" fill="#778899"/>
<rect x="869" y="462" width="1" height="1" fill="#778899"/>
<rect x="901" y="462" width="1" height="1" fill="#778899"/>
<rect x="933" y="462" width="1" height="1" fill="#778899"/>
<rect x="965" y="462" width="1" height="1" fill="#778899"/>
<rect x="997" y="462" width="1" height="1" fill="#778899"/>
<rect x="1029" y="462" width="1" height="1" fill="#778899"/>
<rect x="1061" y="462" width="1" height="1" fill="#778899"/>
<rect x="1093" y="462" width="1" height="1" fill="#778899"/>
<rect x="1125" y="462" width="1" height="1" fill="#778899"/>
<rect x="1157" y="462" width="1" height="1" fill="#778899"/>
<rect x="1189" y="462" width="1" height="1" fill="#778899"/>
<rect x="1210" y="463" width="1" height="109" fill="#000"/>
<rect x="4" y="571" width="1207" height="1" fill="#000"/>
<rect x="1211" y="29" width="2" height="1" fill="#000"/>
<rect x="1211" y="62" width="2" height="1" fill="#000"/>
<rect x="1211" y="95" width="2" height="1" fill="#000"/>
<rect x="1211" y="128" width="2" height="1" fill="#000"/>
<rect x="1211" y="161" width="2" height="1" fill="#000"/>
<rect x="1211" y="194" width="2" height="1" fill="#000"/>
<rect x="1211" y="227" width="2" height="1" fill="#000"/>
<rect x="1211" y="260" width="2" height="1" fill="#000"/>
<rect x="1211" y="293" width="2" height="1" fill="#000"/>
<rect x="1211" y="326" width="2" height="1" fill="#000"/>
<rect x="1211" y="359" width="2" height="1" fill="#000"/>
<rect x="1211" y="392" width="2" height="1" fill="#000"/>
<rect x="1211" y="425" width="2" height="1" fill="#000"/>
<rect x="1211" y="458" width="2" height="1" fill="#000"/>
<rect x="1211" y="465" width="1" height="1" fill="#000"/>
<rect x="1211" y="510" width="1" height="1" fill="#000"/>
<rect x="1211" y="570" width="1" height="1" fill="#000"/>
<rect x="5" y="572" width="1" height="3" fill="#000"/>
<rect x="69" y="572" width="1" height="3" fill="#000"/>
<rect x="133" y="572" width="1" height="3" fill="#000"/>
<rect x="197" y="572" width="1" height="3" fill="#000"/>
<rect x="261" y="572" width="1" height="3" fill="#000"/>
<rect x="325" y="572" width="1" height="3" fill="#000"/>
<rect x="389" y="572" width="1" height="3" fill="#000"/>
<rect x="453" y="572" width="1" height="3" fill="#000"/>
<rect x="517" y="572" width="1" height="3" fill="#000"/>
<rect x="581" y="572" width="1" height="3" fill="#000"/>
<rect x="645" y="572" width="1" height="3" fill="#000"/>
<rect x="709" y="572" width="1" height="3" fill="#000"/>
<rect x="773" y="572" width="1" height="3" fill="#000"/>
<rect x="837" y="572" width="1" height="3" fill="#000"/>
<rect x="901" y="572" width="1" height="3" fill="#000"/>
<rect x="965" y="572" width="1" height="3" fill="#000"/>
<rect x="1212" y="28" width="36" height="11" fill="#000"/>
<rect x="1212" y="43" width="36" height="11" fill="#000"/>
<rect x="1212" y="105" width="36" height="11" fill="#0000ff"/>
<polygon points="8,11 15,11 11.5,15" fill="#000" shape-rendering="auto"/>
<polygon points="962.6,5 971.9,5 967.25,9.8" fill="#778899" shape-rendering="auto"/>
</g>
<polyline shape-rendering="crispEdges" clip-path="url(#c2)" points="4.5,556 5.5,556 21.5,555.5 29.5,554.5 37.5,552.5 45.5,549.5 53.5,546.3 61.5,542.5 69.5,538.7 77.5,535.5 85.5,532.5 93.5,530.3 101.5,529.5 109.5,529.2 117.5,529.5 125.5,531.7 133.5,533.7 141.5,536.7 149.5,538.5 157.5,540 165.5,543.3 173.5,544.7 181.5,547 189.5,549.2 197.5,551.2 205.5,553.3 213.5,555.5 221.5,555.8 229.5,555.8 237.5,555.8 245.5,555.8 253.5,554.7 261.5,550.5 269.5,546.7 277.5,539.2 285.5,533.3 293.5,526.3 301.5,520 309.5,516.7 317.5,511.3 325.5,506.7 333.5,505.3 341.5,503.3 349.5,502.5 357.5,501.7 365.5,499.7 373.5,498.8 381.5,496.7 389.5,493.3 397.5,490.3 405.5,488.3 413.5,485.2 421.5,484.3 429.5,483.8 437.5,483 445.5,483 453.5,485.2 461.5,487.5 469.5,489.3 477.5,491.3 485.5,493 493.5,496.3 501.5,498.3 509.5,500.5 517.5,502.5 525.5,504.7 533.5,505 541.5,505 549.5,505 557.5,505 565.5,502.7 573.5,500.5 581.5,498.5 589.5,495.5 597.5,491.7 605.5,488.5 613.5,485.5 621.5,482.7 629.5,480.5 637.5,478.3 645.5,476.3 653.5,474.2 661.5,473.3 669.5,472.5 677.5,471 685.5,470.8 693.5,470.8 701.5,471.8 709.5,474.3 717.5,475.2 725.5,476 733.5,478.5 741.5,480.5 749.5,482.5 757.5,484.3 765.5,486.3 773.5,489.3 781.5,492.5 789.5,496.3 797.5,499.7 805.5,503 813.5,506.7 821.5,510.8 829.5,514.3 837.5,517.7 845.5,520.8 853.5,521.7 861.5,521.8 869.5,521.8 877.5,521.3 885.5,521 893.5,520.5 901.5,519.7 909.5,518.8 917.5,517.5 925.5,516.8 933.5,516.3 941.5,515.5 949.5,514.3 957.5,512.2 965.5,510.5 973.5,507.7" fill="none" stroke="#ff0000" stroke-width="2.2" stroke-linejoin="round"/>
<text x="20" y="16" textLength="65" lengthAdjust="spacingAndGlyphs">CHINA300-,H4</text>
<text x="90.6" y="16" textLength="28.4" lengthAdjust="spacingAndGlyphs">4000.7</text>
<text x="121.64999999999999" y="16" textLength="28.4" lengthAdjust="spacingAndGlyphs">4005.9</text>
<text x="152.7" y="16" textLength="28.4" lengthAdjust="spacingAndGlyphs">3978.6</text>
<text x="183.75" y="16" textLength="28.4" lengthAdjust="spacingAndGlyphs">3989.0</text>
<text x="8.5" y="476" textLength="113.6" lengthAdjust="spacingAndGlyphs">MACD(12,26,9) 20.48 3.22</text>
<text x="1215.6" y="33" textLength="28.4" lengthAdjust="spacingAndGlyphs">4012.0</text>
<text x="1215.6" y="66" textLength="28.4" lengthAdjust="spacingAndGlyphs">3971.0</text>
<text x="1215.6" y="99" textLength="28.4" lengthAdjust="spacingAndGlyphs">3930.0</text>
<text x="1215.6" y="132" textLength="28.4" lengthAdjust="spacingAndGlyphs">3889.0</text>
<text x="1215.6" y="165" textLength="28.4" lengthAdjust="spacingAndGlyphs">3848.0</text>
<text x="1215.6" y="198" textLength="28.4" lengthAdjust="spacingAndGlyphs">3808.0</text>
<text x="1215.6" y="231" textLength="28.4" lengthAdjust="spacingAndGlyphs">3767.0</text>
<text x="1215.6" y="264" textLength="28.4" lengthAdjust="spacingAndGlyphs">3726.0</text>
<text x="1215.6" y="297" textLength="28.4" lengthAdjust="spacingAndGlyphs">3685.0</text>
<text x="1215.6" y="330" textLength="28.4" lengthAdjust="spacingAndGlyphs">3644.0</text>
<text x="1215.6" y="363" textLength="28.4" lengthAdjust="spacingAndGlyphs">3603.0</text>
<text x="1215.6" y="396" textLength="28.4" lengthAdjust="spacingAndGlyphs">3563.0</text>
<text x="1215.6" y="429" textLength="28.4" lengthAdjust="spacingAndGlyphs">3522.0</text>
<text x="1215.6" y="462" textLength="28.4" lengthAdjust="spacingAndGlyphs">3481.0</text>
<rect x="1212" y="28" width="36" height="11" fill="#000" shape-rendering="crispEdges"/>
<text x="1215.6" y="37" textLength="28.4" lengthAdjust="spacingAndGlyphs" style="fill:#fff;stroke:#fff">4005.2</text>
<text x="1215.6" y="52" textLength="28.4" lengthAdjust="spacingAndGlyphs" style="fill:#fff;stroke:#fff">3989.0</text>
<text x="1215.6" y="114" textLength="28.4" lengthAdjust="spacingAndGlyphs" style="fill:#fff;stroke:#fff">3910.0</text>
<text x="1213.8" y="474" textLength="23.2" lengthAdjust="spacingAndGlyphs">56.42</text>
<text x="1214.2" y="514" textLength="18" lengthAdjust="spacingAndGlyphs">0.00</text>
<text x="1213.8" y="568" textLength="26.4" lengthAdjust="spacingAndGlyphs">-75.36</text>
<text x="4" y="584" textLength="50.5" lengthAdjust="spacingAndGlyphs">13 Oct 2022</text>
<text x="68" y="584" textLength="54.5" lengthAdjust="spacingAndGlyphs">19 Oct 01:30</text>
<text x="132" y="584" textLength="54.5" lengthAdjust="spacingAndGlyphs">25 Oct 01:30</text>
<text x="196" y="584" textLength="54.5" lengthAdjust="spacingAndGlyphs">31 Oct 01:30</text>
<text x="260" y="584" textLength="52" lengthAdjust="spacingAndGlyphs">4 Nov 01:30</text>
<text x="324" y="584" textLength="55.6" lengthAdjust="spacingAndGlyphs">10 Nov 01:30</text>
<text x="388" y="584" textLength="55.6" lengthAdjust="spacingAndGlyphs">16 Nov 01:30</text>
<text x="452" y="584" textLength="55.6" lengthAdjust="spacingAndGlyphs">22 Nov 01:30</text>
<text x="516" y="584" textLength="55.6" lengthAdjust="spacingAndGlyphs">28 Nov 01:30</text>
<text x="580" y="584" textLength="49.7" lengthAdjust="spacingAndGlyphs">2 Dec 01:30</text>
<text x="644" y="584" textLength="49.7" lengthAdjust="spacingAndGlyphs">8 Dec 01:30</text>
<text x="708" y="584" textLength="54.5" lengthAdjust="spacingAndGlyphs">14 Dec 01:30</text>
<text x="772" y="584" textLength="54.5" lengthAdjust="spacingAndGlyphs">20 Dec 01:30</text>
<text x="836" y="584" textLength="54.5" lengthAdjust="spacingAndGlyphs">26 Dec 01:30</text>
<text x="900" y="584" textLength="54.5" lengthAdjust="spacingAndGlyphs">30 Dec 01:30</text>
<text x="964" y="584" textLength="48.5" lengthAdjust="spacingAndGlyphs">6 Jan 01:30</text>
<line x1="969.9" y1="112.6" x2="1017.4" y2="27.2" stroke="#ff0000" stroke-width="6" stroke-linecap="round"/>
<polygon points="1006.8,21.6 1027.4,33.4 1035.1,-6.6" fill="#ff0000"/>
</svg></body></html>
